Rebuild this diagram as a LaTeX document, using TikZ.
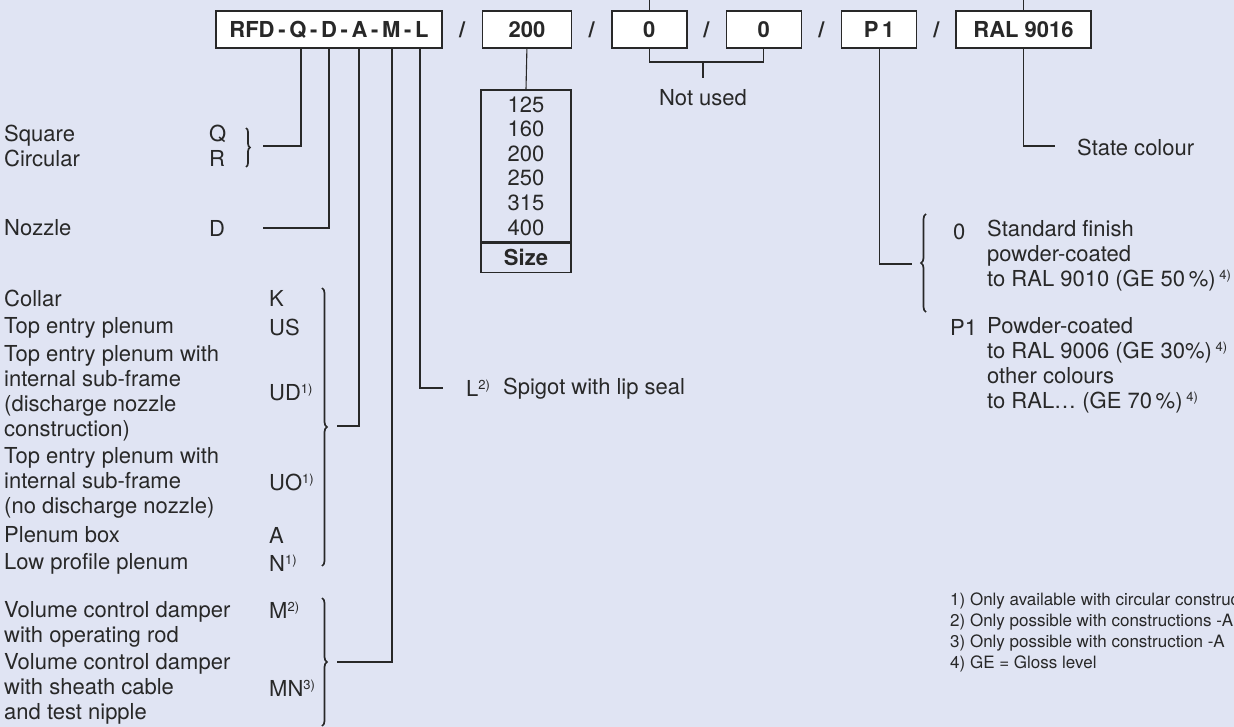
\documentclass[tikz,border=0pt]{standalone}
\usepackage{fontspec}
\setmainfont{TeX Gyre Heros}
\usepackage{tikz}
\usetikzlibrary{positioning, calc, decorations.pathreplacing}
\definecolor{bgblue}{RGB}{224,228,243}
\definecolor{inkgrey}{RGB}{40,40,40}
\newcommand{\fnref}[1]{\raisebox{7pt}{\fontsize{13}{13}\selectfont #1)}}

\begin{document}
\begin{tikzpicture}[x=1pt, y=-1pt,
    codebox/.style={draw=inkgrey, line width=1.4pt, rectangle, fill=white, minimum height=37pt, inner sep=0pt, font=\fontsize{22}{25}\selectfont\bfseries, text=inkgrey},
    slash/.style={inner sep=0pt, font=\fontsize{22}{25}\selectfont\bfseries, text=inkgrey},
    lead/.style={draw=inkgrey, line width=1.1pt},
    desc/.style={anchor=west, align=left, inner sep=0pt, font=\fontsize{22}{25}\selectfont, text=inkgrey},
    note/.style={anchor=west, align=left, inner sep=0pt, font=\fontsize{17}{21}\selectfont, text=inkgrey},
    sizebox/.style={draw=inkgrey, line width=1.1pt, minimum width=90pt, inner sep=0pt, align=center, text=inkgrey},
    bracket/.style={draw=inkgrey, line width=1.7pt, decorate, decoration={brace, amplitude=5pt}}
]

\fill[bgblue] (0,0) rectangle (1234,727);
\useasboundingbox (0,0) rectangle (1234,727);
\coordinate (top) at (0,0);

% Typenschluessel
\node[codebox, minimum width=226pt] (rfd) at (329,29.5) {RFD\,-\,Q\,-\,D\,-\,A\,-\,M\,-\,L};
\node[codebox, minimum width=89pt, right=39pt of rfd] (size) {200};
\node[codebox, minimum width=75pt, right=39pt of size] (n1) {0};
\node[codebox, minimum width=75pt, right=38pt of n1] (n2) {0};
\node[codebox, minimum width=75pt, right=39pt of n2] (p1) {P\,1};
\node[codebox, minimum width=135pt, right=38pt of p1] (ral) {RAL 9016};
\node[slash] (s1) at ($(rfd.east)!0.5!(size.west)$) {/};
\node[slash] (s2) at ($(size.east)!0.5!(n1.west)$) {/};
\node[slash] (s3) at ($(n1.east)!0.5!(n2.west)$) {/};
\node[slash] (s4) at ($(n2.east)!0.5!(p1.west)$) {/};
\node[slash] (s5) at ($(p1.east)!0.5!(ral.west)$) {/};

% Groesse
\node[sizebox, minimum height=152pt, font=\fontsize{22}{24.6}\selectfont] (sizelist) at (526,166) {125\\160\\200\\250\\315\\400};
\node[sizebox, minimum height=29pt, font=\fontsize{22}{25}\selectfont\bfseries, below=0pt of sizelist] (sizelabel) {Size};

% Optionen links
\node[desc] (shape) at (4,146) {Square\\Circular};
\node[desc] (shapecode) at (209,146) {Q\\R};
\node[desc] (nozzle) at (4,228) {Nozzle};
\node[desc] (nozzlecode) at (209,228) {D};
\node[desc] (collar) at (4,298) {Collar};
\node[desc] (collarcode) at (269,298) {K};
\node[desc] (us) at (4,328) {Top entry plenum};
\node[desc] (uscode) at (269,327) {US};
\node[desc] (ud) at (4,393) {Top entry plenum with\\internal sub-frame\\(discharge nozzle\\construction)};
\node[desc] (udcode) at (269,392) {UD\fnref{1}};
\node[desc] (uo) at (4,483) {Top entry plenum with\\internal sub-frame\\(no discharge nozzle)};
\node[desc] (uocode) at (269,482) {UO\fnref{1}};
\node[desc] (plbox) at (4,535) {Plenum box};
\node[desc] (plboxcode) at (269,535) {A};
\node[desc] (lowpr) at (4,564) {Low profile plenum};
\node[desc] (lowprcode) at (269,563) {N\fnref{1}};
\node[desc] (vcda) at (4,624) {Volume control damper\\with operating rod};
\node[desc] (vcdacode) at (269,610) {M\fnref{2}};
\node[desc] (vcdb) at (4,689) {Volume control damper\\with sheath cable\\and test nipple};
\node[desc] (vcdbcode) at (269,688) {MN\fnref{3}};

% Optionen rechts
\node[desc] (spigotcode) at (466,388) {L\fnref{2}};
\node[desc] (spigot) at (503,389) {Spigot with lip seal};
\node[desc, anchor=center] (notused) at (703,98) {Not used};
\node[desc] (colour) at (1077,147) {State colour};
\node[desc] (finish0code) at (953,232) {0};
\node[desc] (finish0) at (987,256) {Standard finish\\powder-coated\\to RAL 9010 (GE 50\,\%)\,\fnref{4}};
\node[desc] (finishp1code) at (950,327) {P1};
\node[desc] (finishp1) at (987,365) {Powder-coated\\to RAL 9006 (GE 30\%)\,\fnref{4}\\other colours\\to RAL\dots\ (GE 70\,\%)\,\fnref{4}};

% Fussnoten
\node[note] (notes) at (950,632) {1) Only available with circular construc\\2) Only possible with constructions -A\\3) Only possible with construction -A\\4) GE = Gloss level};

% Klammern
\draw[bracket, decoration={amplitude=4pt}] (246,128) -- (246,167);
\draw[bracket] (322,288) -- (322,566);
\draw[bracket] (322,598) -- (322,726);
\draw[bracket] (926,312) -- (926,214);

% Kanten
\coordinate (qr) at (263,146);
\coordinate (dtip) at (263,228);
\coordinate (atip) at (337,426);
\coordinate (mtip) at (337,662);
\coordinate (ltip) at (443,388);
\coordinate (nu) at (703,62);
\coordinate (p1tip) at (912,264);
\coordinate (stip) at (1055,146);
\draw[lead] ([xshift=-28pt]rfd.south) |- (qr);
\draw[lead] (rfd.south) |- (dtip);
\draw[lead] ([xshift=30pt]rfd.south) |- (atip);
\draw[lead] ([xshift=63pt]rfd.south) |- (mtip);
\draw[lead] ([xshift=91pt]rfd.south) |- (ltip);
\draw[lead] (size.south) -- (sizelist.north);
\draw[line width=2.6pt, draw=inkgrey] (sizelist.south west) -- (sizelist.south east);
\draw[lead] (n1.south) |- (nu) -| (n2.south);
\draw[lead] (nu) -- ++(0,16);
\draw[lead] (n1.north) -- (n1.north |- top);
\draw[lead] (ral.north) -- (ral.north |- top);
\draw[lead] (p1.south) |- (p1tip);
\draw[lead] (ral.south) |- (stip);

\end{tikzpicture}
\end{document}
